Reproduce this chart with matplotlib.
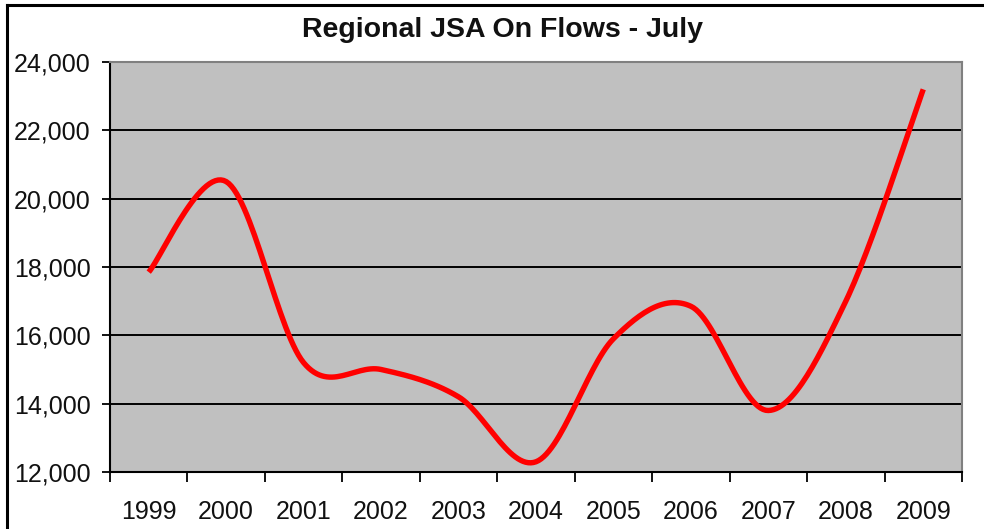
import numpy as np
import matplotlib
matplotlib.use("Agg")
import matplotlib.pyplot as plt
from matplotlib.lines import Line2D

years = ["1999", "2000", "2001", "2002", "2003", "2004", "2005", "2006", "2007", "2008", "2009"]
values = [17850, 20500, 15200, 15000, 14200, 12300, 15900, 16850, 13800, 17000, 23200]
yticks = [12000, 14000, 16000, 18000, 20000, 22000, 24000]
title = "Regional JSA On Flows - July"

plt.rcParams['font.family'] = ['Liberation Sans', 'DejaVu Sans']


def smooth(xs, ys, n=30):
    # Excel-style smoothed line (Catmull-Rom via cubic Bezier segments)
    xs = np.asarray(xs, float)
    ys = np.asarray(ys, float)
    P = np.column_stack([xs, ys])
    out = []
    for i in range(len(P) - 1):
        p0 = P[i - 1] if i > 0 else P[i]
        p1 = P[i]
        p2 = P[i + 1]
        p3 = P[i + 2] if i + 2 < len(P) else P[i + 1]
        c1 = p1 + (p2 - p0) / 6.0
        c2 = p2 - (p3 - p1) / 6.0
        t = np.linspace(0, 1, n, endpoint=(i == len(P) - 2))[:, None]
        seg = ((1 - t) ** 3) * p1 + 3 * ((1 - t) ** 2) * t * c1 + 3 * (1 - t) * t ** 2 * c2 + t ** 3 * p2
        out.append(seg)
    out = np.vstack(out)
    return out[:, 0], out[:, 1]


fig = plt.figure(figsize=(9.84, 5.29), dpi=100)
ax = fig.add_axes([110 / 984, 1 - 472 / 529, 852 / 984, 410 / 529])
ax.set_facecolor("#C0C0C0")

x = np.arange(len(years))
sx, sy = smooth(x, values)
ax.plot(sx, sy, color="#FF0000", lw=3.9, solid_capstyle="butt", solid_joinstyle="round", zorder=3)

ax.set_xlim(-0.5, len(years) - 0.5)
ax.set_ylim(12000, 24000)
ax.set_yticks(yticks)
ax.set_yticklabels([f"{v:,}" for v in yticks], fontsize=18)
ax.yaxis.grid(True, color="black", lw=1.4, zorder=1)
ax.set_axisbelow(True)

ax.set_xticks(np.arange(-0.5, len(years), 1.0))
ax.set_xticklabels([])
ax.set_xticks(x, minor=True)
ax.set_xticklabels(years, minor=True, fontsize=18)
ax.tick_params(axis="x", which="major", direction="out", length=7, width=1.3, color="black")
ax.tick_params(axis="x", which="minor", length=0, pad=20)
ax.tick_params(axis="y", direction="out", length=6, width=1.3, color="black", pad=8)
for lab in ax.get_yticklabels() + ax.get_xticklabels(minor=True):
    lab.set_color("#111111")

ax.spines["left"].set_color("black")
ax.spines["left"].set_linewidth(1.5)
ax.spines["bottom"].set_color("black")
ax.spines["bottom"].set_linewidth(1.5)
ax.spines["top"].set_color("#808080")
ax.spines["top"].set_linewidth(1.5)
ax.spines["right"].set_color("#808080")
ax.spines["right"].set_linewidth(1.5)

fig.text(502 / 984, 1 - 30 / 529, title, ha="center", va="center", fontsize=20.5, fontweight="bold", color="#111111")

# outer chart border (top and left visible)
fig.add_artist(Line2D([7 / 984, 1.0], [1 - 5 / 529, 1 - 5 / 529], transform=fig.transFigure, color="black", lw=2.2))
fig.add_artist(Line2D([7 / 984, 7 / 984], [0.0, 1 - 5 / 529], transform=fig.transFigure, color="black", lw=2.2))

fig.savefig("out.png", dpi=100)
